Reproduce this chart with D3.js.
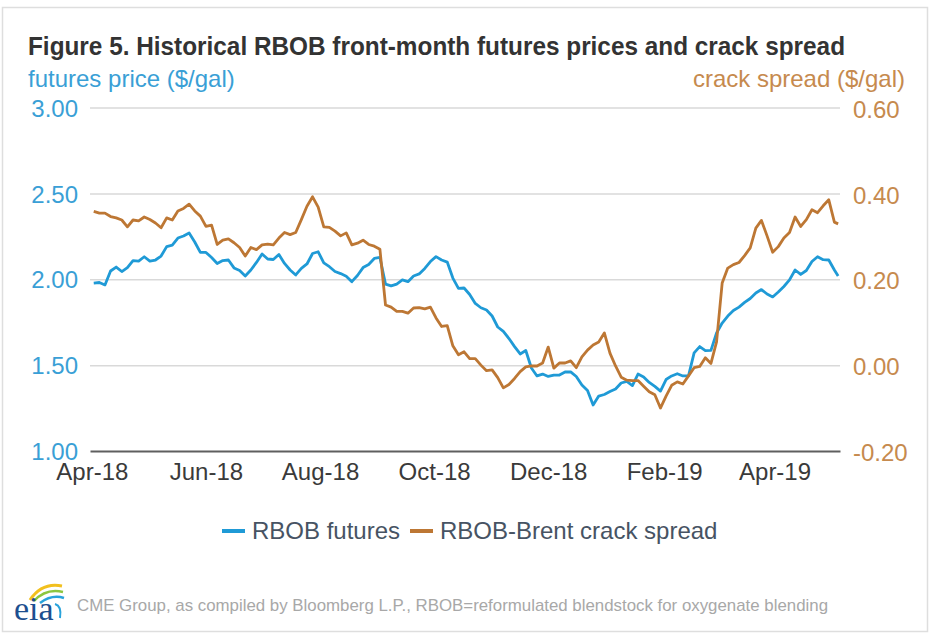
<!DOCTYPE html>
<html>
<head>
<meta charset="utf-8">
<script src="https://cdn.jsdelivr.net/npm/d3@7"></script>
<style>
  html, body { margin: 0; padding: 0; background: #fff; }
  svg { display: block; font-family: "Liberation Sans", Arial, sans-serif; }
</style>
</head>
<body>
<svg id="chart" width="935" height="637"></svg>
<script>
// ---------------- DATA ----------------
const dates = [
"2018-04-02","2018-04-05","2018-04-08","2018-04-11","2018-04-14","2018-04-17","2018-04-20","2018-04-23","2018-04-26","2018-04-29",
"2018-05-02","2018-05-05","2018-05-08","2018-05-11","2018-05-14","2018-05-17","2018-05-20","2018-05-23","2018-05-26","2018-05-29",
"2018-06-01","2018-06-04","2018-06-07","2018-06-10","2018-06-13","2018-06-16","2018-06-19","2018-06-22","2018-06-25","2018-06-28",
"2018-07-01","2018-07-04","2018-07-07","2018-07-10","2018-07-13","2018-07-16","2018-07-19","2018-07-22","2018-07-25","2018-07-28",
"2018-07-31","2018-08-03","2018-08-06","2018-08-09","2018-08-12","2018-08-15","2018-08-18","2018-08-21","2018-08-24","2018-08-27",
"2018-08-30","2018-09-02","2018-09-05","2018-09-08","2018-09-11","2018-09-14","2018-09-17","2018-09-20","2018-09-23","2018-09-26",
"2018-09-29","2018-10-02","2018-10-05","2018-10-08","2018-10-11","2018-10-14","2018-10-17","2018-10-20","2018-10-23","2018-10-26",
"2018-10-29","2018-11-01","2018-11-04","2018-11-07","2018-11-10","2018-11-13","2018-11-16","2018-11-19","2018-11-22","2018-11-25",
"2018-11-28","2018-12-01","2018-12-04","2018-12-07","2018-12-10","2018-12-13","2018-12-16","2018-12-19","2018-12-22","2018-12-25",
"2018-12-28","2018-12-31","2019-01-03","2019-01-06","2019-01-09","2019-01-12","2019-01-15","2019-01-18","2019-01-21","2019-01-24",
"2019-01-27","2019-01-30","2019-02-02","2019-02-05","2019-02-08","2019-02-11","2019-02-14","2019-02-17","2019-02-20","2019-02-23",
"2019-02-26","2019-03-01","2019-03-04","2019-03-07","2019-03-10","2019-03-13","2019-03-16","2019-03-19","2019-03-22","2019-03-25",
"2019-03-28","2019-03-31","2019-04-03","2019-04-06","2019-04-09","2019-04-12","2019-04-15","2019-04-18","2019-04-21","2019-04-24",
"2019-04-27","2019-04-30","2019-05-03","2019-05-05"
];

// RBOB front-month futures price ($/gal), left axis
const rbobFutures = [
1.978, 1.981, 1.967, 2.048, 2.071, 2.045, 2.068, 2.109, 2.106, 2.131,
2.106, 2.112, 2.135, 2.190, 2.199, 2.240, 2.252, 2.269, 2.217, 2.156,
2.156, 2.127, 2.092, 2.109, 2.112, 2.066, 2.051, 2.019, 2.054, 2.098,
2.147, 2.118, 2.115, 2.144, 2.092, 2.054, 2.025, 2.063, 2.089, 2.150,
2.160, 2.095, 2.073, 2.045, 2.033, 2.018, 1.986, 2.022, 2.068, 2.086,
2.121, 2.127, 1.972, 1.961, 1.972, 1.996, 1.986, 2.019, 2.031, 2.063,
2.103, 2.132, 2.112, 2.100, 2.007, 1.947, 1.949, 1.911, 1.859, 1.834,
1.821, 1.786, 1.722, 1.696, 1.655, 1.608, 1.565, 1.585, 1.483, 1.437,
1.448, 1.434, 1.442, 1.442, 1.460, 1.461, 1.434, 1.384, 1.352, 1.268,
1.320, 1.329, 1.346, 1.361, 1.396, 1.405, 1.381, 1.448, 1.431, 1.399,
1.376, 1.349, 1.416, 1.437, 1.450, 1.437, 1.437, 1.571, 1.608, 1.585,
1.586, 1.687, 1.745, 1.786, 1.818, 1.838, 1.865, 1.888, 1.920, 1.940,
1.914, 1.897, 1.926, 1.958, 1.996, 2.054, 2.028, 2.051, 2.103, 2.131,
2.114, 2.112, 2.054, 2.019
];

// RBOB-Brent crack spread ($/gal), right axis
const crackSpread = [
0.358, 0.354, 0.354, 0.346, 0.343, 0.338, 0.322, 0.338, 0.336, 0.345,
0.339, 0.331, 0.320, 0.343, 0.338, 0.359, 0.365, 0.375, 0.359, 0.347,
0.323, 0.326, 0.281, 0.291, 0.294, 0.285, 0.274, 0.254, 0.274, 0.269,
0.280, 0.282, 0.280, 0.296, 0.309, 0.304, 0.309, 0.339, 0.370, 0.392,
0.368, 0.322, 0.321, 0.312, 0.301, 0.308, 0.280, 0.284, 0.291, 0.281,
0.277, 0.270, 0.140, 0.135, 0.125, 0.125, 0.121, 0.133, 0.134, 0.131,
0.135, 0.110, 0.090, 0.092, 0.045, 0.024, 0.031, 0.015, 0.015, 0.000,
-0.013, -0.011, -0.029, -0.053, -0.045, -0.031, -0.015, -0.004, -0.002, -0.002,
0.005, 0.042, -0.007, 0.005, 0.005, 0.010, -0.006, 0.019, 0.035, 0.047,
0.054, 0.075, 0.028, -0.002, -0.028, -0.035, -0.036, -0.036, -0.049, -0.062,
-0.069, -0.100, -0.072, -0.047, -0.039, -0.044, -0.025, -0.006, -0.003, 0.017,
0.004, 0.054, 0.191, 0.226, 0.234, 0.239, 0.255, 0.273, 0.319, 0.337,
0.301, 0.263, 0.276, 0.296, 0.309, 0.345, 0.323, 0.339, 0.362, 0.355,
0.371, 0.385, 0.333, 0.329
];

const leftTicks = [1.00, 1.50, 2.00, 2.50, 3.00];
const rightTicks = [-0.20, 0.00, 0.20, 0.40, 0.60];
const xTickDates = ["2018-04-01","2018-06-01","2018-08-01","2018-10-01","2018-12-01","2019-02-01","2019-04-01"];
const xDomain = ["2018-03-31", "2019-05-06"];

const titleText = "Figure 5. Historical RBOB front-month futures prices and crack spread";
const leftTitle = "futures price ($/gal)";
const rightTitle = "crack spread ($/gal)";
const seriesNames = ["RBOB futures", "RBOB-Brent crack spread"];
const sourceText = "CME Group, as compiled by Bloomberg L.P., RBOB=reformulated blendstock for oxygenate blending";

// ---------------- STYLE / LAYOUT ----------------
const C = {
  blue: "#1f9ad6", orange: "#bd7734",
  blueText: "#3a9fd6", orangeText: "#c68a4e",
  grid: "#d9d9d9", axis: "#5f5f5f", title: "#333333", text: "#3a3a3a",
  legend: "#475363", source: "#a8a8a8"
};
const M = { left: 90, right: 840, top: 107.5, bottom: 451 };
const parse = d3.timeParse("%Y-%m-%d");

const svg = d3.select("#chart");

// frame
svg.append("rect").attr("x", 2.5).attr("y", 7.5).attr("width", 925).attr("height", 624)
  .attr("fill", "#fff").attr("stroke", "#dedede").attr("stroke-width", 1.5);

// scales
const x = d3.scaleTime().domain(xDomain.map(parse)).range([M.left, M.right]);
const yL = d3.scaleLinear().domain([1, 3]).range([M.bottom, M.top]);
const yR = d3.scaleLinear().domain([-0.2, 0.6]).range([M.bottom, M.top]);
const fmt = d => d.toFixed(2);

// gridlines
const grid = svg.append("g").attr("transform", `translate(${M.left},0)`)
  .call(d3.axisLeft(yL).tickValues(leftTicks.filter(v => v > 1)).tickSize(-(M.right - M.left)).tickFormat(""));
grid.select(".domain").remove();
grid.selectAll(".tick line").attr("stroke", C.grid).attr("stroke-width", 1.5);

// x axis line
const xAxis = svg.append("g").attr("transform", `translate(0,${M.bottom})`)
  .call(d3.axisBottom(x).tickValues(xTickDates.map(parse)).tickFormat(d3.timeFormat("%b-%y")).tickSize(0).tickPadding(12));
xAxis.select(".domain").attr("stroke", C.axis).attr("stroke-width", 2);
xAxis.selectAll("text").attr("font-size", 24).attr("fill", C.text).attr("font-family", null);

// left axis labels
const lAxis = svg.append("g").attr("transform", `translate(${M.left},0)`)
  .call(d3.axisLeft(yL).tickValues(leftTicks).tickFormat(fmt).tickSize(0).tickPadding(12));
lAxis.select(".domain").remove();
lAxis.selectAll("text").attr("font-size", 24).attr("fill", C.blueText).attr("y", 1).attr("font-family", null);

// right axis labels
const rAxis = svg.append("g").attr("transform", `translate(${M.right},0)`)
  .call(d3.axisRight(yR).tickValues(rightTicks).tickFormat(fmt).tickSize(0).tickPadding(13));
rAxis.select(".domain").remove();
rAxis.selectAll("text").attr("font-size", 24).attr("fill", C.orangeText).attr("y", 2).attr("font-family", null);

// lines
const pts = dates.map((d, i) => ({ date: parse(d), p: rbobFutures[i], c: crackSpread[i] }));
svg.append("path").datum(pts)
  .attr("fill", "none").attr("stroke", C.blue).attr("stroke-width", 2.8).attr("stroke-linejoin", "round")
  .attr("d", d3.line().x(d => x(d.date)).y(d => yL(d.p)));
svg.append("path").datum(pts)
  .attr("fill", "none").attr("stroke", C.orange).attr("stroke-width", 2.8).attr("stroke-linejoin", "round")
  .attr("d", d3.line().x(d => x(d.date)).y(d => yR(d.c)));

// titles
svg.append("text").attr("x", 28).attr("y", 55).attr("font-size", 25).attr("font-weight", "bold")
  .attr("fill", C.title).attr("textLength", 817).attr("lengthAdjust", "spacingAndGlyphs").text(titleText);
svg.append("text").attr("x", 28).attr("y", 87).attr("font-size", 24).attr("fill", C.blueText).text(leftTitle);
svg.append("text").attr("x", 905).attr("y", 87).attr("font-size", 24).attr("fill", C.orangeText)
  .attr("text-anchor", "end").text(rightTitle);

// legend
const leg = svg.append("g");
const legItems = [
  { name: seriesNames[0], color: C.blue, x0: 222 },
  { name: seriesNames[1], color: C.orange, x0: 410 }
];
legItems.forEach(it => {
  leg.append("line").attr("x1", it.x0).attr("x2", it.x0 + 23).attr("y1", 531).attr("y2", 531)
    .attr("stroke", it.color).attr("stroke-width", 4);
  leg.append("text").attr("x", it.x0 + 30).attr("y", 539).attr("font-size", 24).attr("fill", C.legend).text(it.name);
});

// source note
svg.append("text").attr("x", 77).attr("y", 611).attr("font-size", 17).attr("fill", C.source)
  .attr("textLength", 751).attr("lengthAdjust", "spacingAndGlyphs").text(sourceText);

// eia logo
const logo = svg.append("g");
logo.append("path").attr("d", "M30,600 Q42,582 62,586").attr("fill", "none").attr("stroke", "#f2c01e").attr("stroke-width", 3);
logo.append("path").attr("d", "M34,601 Q46,588 63,592").attr("fill", "none").attr("stroke", "#8cc63f").attr("stroke-width", 2.5);
logo.append("path").attr("d", "M40,603 Q52,594 64,598").attr("fill", "none").attr("stroke", "#29a3db").attr("stroke-width", 2.5);
logo.append("path").attr("d", "M55,604 Q62,606 60,618").attr("fill", "none").attr("stroke", "#29a3db").attr("stroke-width", 2);
logo.append("text").attr("x", 14).attr("y", 620).attr("font-size", 34)
  .attr("font-family", "'Liberation Serif', 'DejaVu Serif', serif").attr("fill", "#1d4f8f").text("eia");
</script>
</body>
</html>
